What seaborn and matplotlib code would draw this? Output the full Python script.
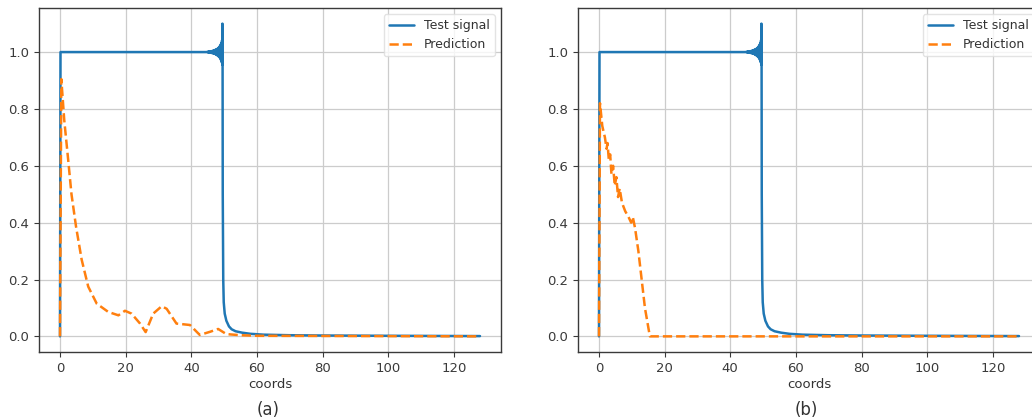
import matplotlib
matplotlib.use("Agg")
import matplotlib.pyplot as plt
import seaborn as sns
import pandas as pd

# ---- test signal (same for both panels): step up at 0, ringing before the edge at ~49.5, then a fast decay
signal_x = [0.0, 0.15, 10.0, 20.0, 30.0, 40.0, 44.0, 44.9,
            45.0, 45.1, 45.2, 45.3, 45.4, 45.5, 45.6, 45.7, 45.8, 45.9,
            46.0, 46.1, 46.2, 46.3, 46.4, 46.5, 46.6, 46.7, 46.8, 46.9,
            47.0, 47.1, 47.2, 47.3, 47.4, 47.5, 47.6, 47.7, 47.8, 47.9,
            48.0, 48.1, 48.2, 48.3, 48.4, 48.5, 48.6, 48.7, 48.8, 48.9,
            49.0, 49.1, 49.2, 49.3, 49.4, 49.45, 49.5, 49.55,
            49.6, 49.75, 49.9, 50.2, 50.7, 51.5, 52.3, 53.5, 55.5, 58.0,
            62.0, 70.0, 80.0, 100.0, 128.0]
signal_y = [0.0, 1.0, 1.0, 1.0, 1.0, 1.0, 1.0, 1.0,
            1.001, 0.999, 1.001, 0.999, 1.002, 0.998, 1.002, 0.998, 1.002, 0.998,
            1.003, 0.997, 1.003, 0.997, 1.004, 0.996, 1.004, 0.996, 1.005, 0.995,
            1.006, 0.994, 1.007, 0.993, 1.008, 0.992, 1.009, 0.991, 1.010, 0.989,
            1.012, 0.987, 1.014, 0.985, 1.016, 0.983, 1.019, 0.980, 1.022, 0.976,
            1.027, 0.971, 1.033, 0.964, 1.042, 0.955, 1.100, 0.960,
            0.50, 0.20, 0.12, 0.08, 0.055, 0.035, 0.025, 0.018, 0.013, 0.009,
            0.006, 0.004, 0.003, 0.002, 0.001]

# ---- prediction, model (a)
pred_a_x = [0.0, 0.4, 1.3, 2.5, 3.5, 4.9, 6.6, 8.6, 11.2, 14.7, 17.8, 19.8,
            21.8, 24.4, 26.1, 28.4, 31.0, 32.5, 35.5, 39.6, 42.6, 45.7, 48.2,
            50.7, 55.0, 60.0, 128.0]
pred_a_y = [0.0, 0.905, 0.76, 0.62, 0.50, 0.385, 0.27, 0.175, 0.115, 0.086, 0.074, 0.09,
            0.08, 0.045, 0.015, 0.08, 0.106, 0.097, 0.045, 0.040, 0.005, 0.016, 0.026,
            0.008, 0.004, 0.002, 0.0]

# ---- prediction, model (b)
pred_b_x = [0.0, 0.3, 1.0, 1.8, 2.3, 2.6, 3.0, 3.4, 3.8, 4.3, 4.8, 5.3, 5.8, 6.3,
            7.0, 8.0, 9.0, 9.8, 10.3, 11.0, 12.0, 13.0, 14.0, 15.5, 20.0, 128.0]
pred_b_y = [0.0, 0.82, 0.74, 0.70, 0.66, 0.68, 0.62, 0.64, 0.57, 0.60, 0.53, 0.56, 0.49, 0.52,
            0.47, 0.44, 0.42, 0.40, 0.42, 0.38, 0.30, 0.20, 0.10, 0.0, 0.0, 0.0]

series_labels = ["Test signal", "Prediction"]
panel_captions = ["(a)", "(b)"]
x_label = "coords"

sns.set_theme(style="ticks", rc={
    "axes.grid": True,
    "grid.color": "#cccccc",
    "grid.linewidth": 0.9,
    "axes.edgecolor": "#3a3a3a",
    "axes.linewidth": 1.0,
    "xtick.color": "#3a3a3a",
    "ytick.color": "#3a3a3a",
    "text.color": "#333333",
    "axes.labelcolor": "#333333",
    "xtick.labelsize": 9.5,
    "ytick.labelsize": 9.5,
    "axes.labelsize": 9.5,
    "legend.fontsize": 9,
})
plt.rcParams["font.family"] = ["DejaVu Sans"]

fig = plt.figure(figsize=(10.32, 4.19), dpi=100)
W, H = 1032, 419
ax_w, ax_h = 462 / W, 344 / H
ax_bottom = 1 - 352 / H
ax_a = fig.add_axes([39 / W, ax_bottom, ax_w, ax_h])
ax_b = fig.add_axes([578 / W, ax_bottom, ax_w, ax_h])

signal_df = pd.DataFrame({"x": signal_x, "y": signal_y})
panels = [
    (ax_a, pd.DataFrame({"x": pred_a_x, "y": pred_a_y}), panel_captions[0]),
    (ax_b, pd.DataFrame({"x": pred_b_x, "y": pred_b_y}), panel_captions[1]),
]

for ax, pred_df, caption in panels:
    sns.lineplot(data=signal_df, x="x", y="y", ax=ax, estimator=None, sort=False,
                 color="#1f77b4", linewidth=1.8, label=series_labels[0])
    sns.lineplot(data=pred_df, x="x", y="y", ax=ax, estimator=None, sort=False,
                 color="#ff7f0e", linewidth=1.8, linestyle="--", label=series_labels[1])
    ax.set_xlabel(x_label, labelpad=2)
    ax.set_ylabel("")
    ax.set_xticks([0, 20, 40, 60, 80, 100, 120])
    ax.set_yticks([0.0, 0.2, 0.4, 0.6, 0.8, 1.0])
    ax.set_xlim(-6.4, 134.4)
    ax.set_ylim(-0.055, 1.155)
    ax.tick_params(length=3.5, width=0.8)
    ax.legend(loc="upper right", frameon=True, framealpha=0.8, edgecolor="#dddddd")
    for s in ax.spines.values():
        s.set_visible(True)

fig.text(268 / W, 1 - 410 / H, panel_captions[0], ha="center", va="center", fontsize=12)
fig.text(806 / W, 1 - 410 / H, panel_captions[1], ha="center", va="center", fontsize=12)

fig.savefig("out.png", dpi=100, facecolor="white")
